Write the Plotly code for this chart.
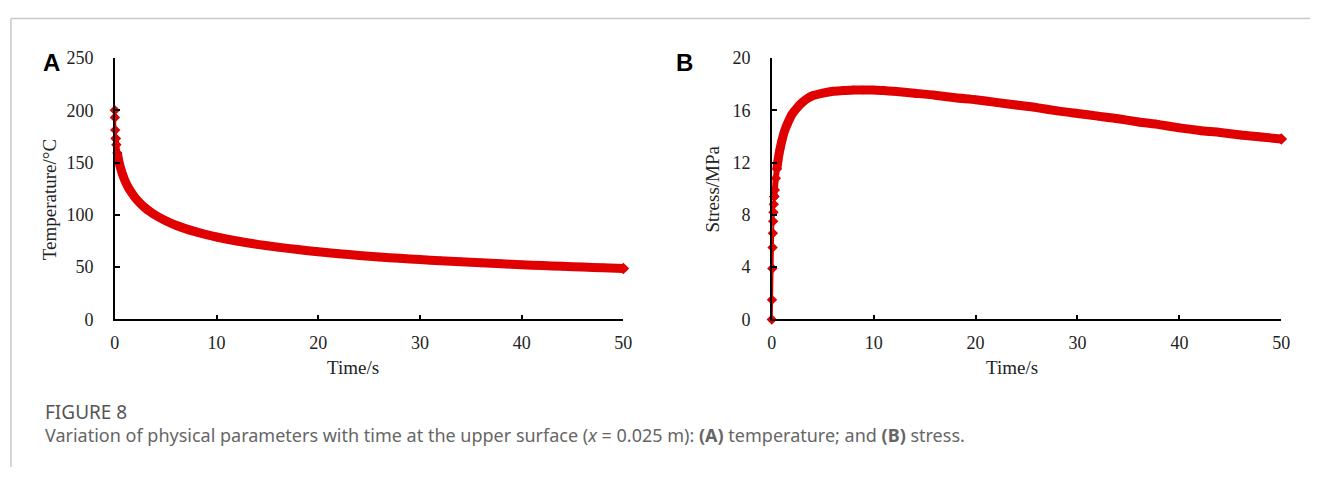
import plotly.graph_objects as go

W, H = 1319, 477

# Panel A: surface temperature (°C) vs time (s)
time_a = [0, 0.01, 0.04, 0.09, 0.15, 0.25, 0.4, 0.6, 0.8, 1.0, 1.25, 1.5, 2, 2.5, 3, 3.5, 4,
          5, 6, 7, 8, 9, 10, 12, 14, 16, 18, 20, 22, 24, 26, 28, 30, 32, 34, 36, 38, 40, 42,
          44, 46, 48, 50]
temp_a = [200, 193, 181, 173, 167, 159, 151, 143.5, 137.5, 132.5, 127.5, 123.3, 116.3, 111, 106.5,
          102.8, 99.6, 94.3, 90, 86.6, 83.7, 81.1, 78.8, 75, 71.8, 69.1, 66.8, 64.7, 62.9, 61.2,
          59.7, 58.4, 57.2, 56.1, 55.1, 54.1, 53.2, 52.3, 51.5, 50.8, 50.1, 49.4, 48.7]

# Panel B: surface stress (MPa) vs time (s)
time_b = [0, 0.02, 0.05, 0.08, 0.11, 0.14, 0.17, 0.2, 0.25, 0.3, 0.4, 0.5, 0.6, 0.8, 1.0, 1.25,
          1.5, 2, 2.5, 3, 3.5, 4, 5, 6, 7, 8, 9, 10, 11, 12, 14, 16, 18, 20, 22, 24, 26, 28, 30,
          32, 34, 36, 38, 40, 42, 44, 46, 48, 50]
stress_b = [0, 1.5, 3.9, 5.5, 6.6, 7.5, 8.2, 8.8, 9.4, 9.9, 10.8, 11.5, 12.1, 13.0, 13.7, 14.4,
            14.9, 15.7, 16.2, 16.6, 16.9, 17.1, 17.3, 17.45, 17.5, 17.55, 17.55, 17.55, 17.5, 17.45,
            17.3, 17.15, 16.95, 16.8, 16.6, 16.4, 16.2, 15.95, 15.75, 15.55, 15.35, 15.1, 14.9,
            14.65, 14.45, 14.3, 14.1, 13.95, 13.8]

xticks = [0, 10, 20, 30, 40, 50]
yticks_a = [0, 50, 100, 150, 200, 250]
yticks_b = [0, 4, 8, 12, 16, 20]

RED = "#e00000"
SERIF = "Liberation Serif"


def px_x(v):
    return v / W


def px_y(v):
    return 1 - v / H


fig = go.Figure()


def add_series(t, v, xa, ya, s1, s2):
    # early sparse points: thin line with distinct diamond markers
    fig.add_trace(go.Scatter(x=t[:s1 + 1], y=v[:s1 + 1], xaxis=xa, yaxis=ya, mode="lines+markers",
                             line=dict(color=RED, width=2),
                             marker=dict(symbol="diamond", size=8, color=RED),
                             cliponaxis=False, showlegend=False, hoverinfo="x+y"))
    # transition: markers crowding into a band
    fig.add_trace(go.Scatter(x=t[s1:s2 + 1], y=v[s1:s2 + 1], xaxis=xa, yaxis=ya, mode="lines+markers",
                             line=dict(color=RED, width=6, shape="spline", smoothing=0.6),
                             marker=dict(symbol="diamond", size=8, color=RED),
                             cliponaxis=False, showlegend=False, hoverinfo="x+y"))
    # dense part: thick band of overlapping markers
    fig.add_trace(go.Scatter(x=t[s2:], y=v[s2:], xaxis=xa, yaxis=ya, mode="lines+markers",
                             line=dict(color=RED, width=9, shape="spline", smoothing=0.6),
                             marker=dict(symbol="diamond", size=7, color=RED),
                             cliponaxis=False, showlegend=False, hoverinfo="x+y"))
    # pointed end of the band
    fig.add_trace(go.Scatter(x=t[-1:], y=v[-1:], xaxis=xa, yaxis=ya, mode="markers",
                             marker=dict(symbol="diamond", size=9, color=RED),
                             cliponaxis=False, showlegend=False, hoverinfo="x+y"))


add_series(time_a, temp_a, "x", "y", 3, 5)
add_series(time_b, stress_b, "x2", "y2", 8, 11)

axis_common = dict(showline=True, linecolor="black", linewidth=1.5, ticks="inside", ticklen=5,
                   tickwidth=1.5, tickcolor="black", showgrid=False, zeroline=False,
                   tickfont=dict(family=SERIF, size=18, color="#222"))

ydom = [px_y(323), px_y(50)]
fig.update_layout(
    width=W, height=H, margin=dict(l=0, r=0, t=0, b=0),
    paper_bgcolor="white", plot_bgcolor="white",
    xaxis=dict(domain=[px_x(111), px_x(625)], range=[0, 50], tickvals=xticks, anchor="y",
               ticklabelstandoff=6, **axis_common),
    yaxis=dict(domain=ydom, range=[0, 250], tickvals=yticks_a, anchor="x",
               ticklabelstandoff=16, **axis_common),
    xaxis2=dict(domain=[px_x(775), px_x(1290)], range=[0, 50], tickvals=xticks, anchor="y2",
                ticklabelstandoff=6, **axis_common),
    yaxis2=dict(domain=ydom, range=[0, 20], tickvals=yticks_b, anchor="x2",
                ticklabelstandoff=16, **axis_common),
)

ann = []


def text(x, y, s, size=15, family=SERIF, color="#222", angle=0, xanchor="center", yanchor="middle"):
    ann.append(dict(x=px_x(x), y=px_y(y), xref="paper", yref="paper", text=s, showarrow=False,
                    textangle=angle, xanchor=xanchor, yanchor=yanchor,
                    font=dict(family=family, size=size, color=color)))


text(352, 373, "Time/s", size=19)
text(1018, 373, "Time/s", size=19)
text(45, 198, "Temperature/°C", size=19, angle=-90)
text(715, 187, "Stress/MPa", size=19, angle=-90)
text(47, 55, "<b>A</b>", size=24, family="Liberation Sans", color="black")
text(687, 55, "<b>B</b>", size=24, family="Liberation Sans", color="black")
text(38, 420, "FIGURE 8", size=19, family="Noto Sans", color="#555", xanchor="left")
text(38, 444, "Variation of physical parameters with time at the upper surface (<i>x</i> = 0.025 m): "
              "<b>(A)</b> temperature; and <b>(B)</b> stress.",
     size=18, family="Noto Sans", color="#666", xanchor="left")
fig.update_layout(annotations=ann)

fig.add_shape(type="line", xref="paper", yref="paper", x0=px_x(6), x1=1, y0=px_y(9), y1=px_y(9),
              line=dict(color="#c8c8c8", width=1.5))
fig.add_shape(type="line", xref="paper", yref="paper", x0=px_x(6), x1=px_x(6), y0=px_y(9), y1=0,
              line=dict(color="#c8c8c8", width=1.5))

fig.write_html("out.html")
